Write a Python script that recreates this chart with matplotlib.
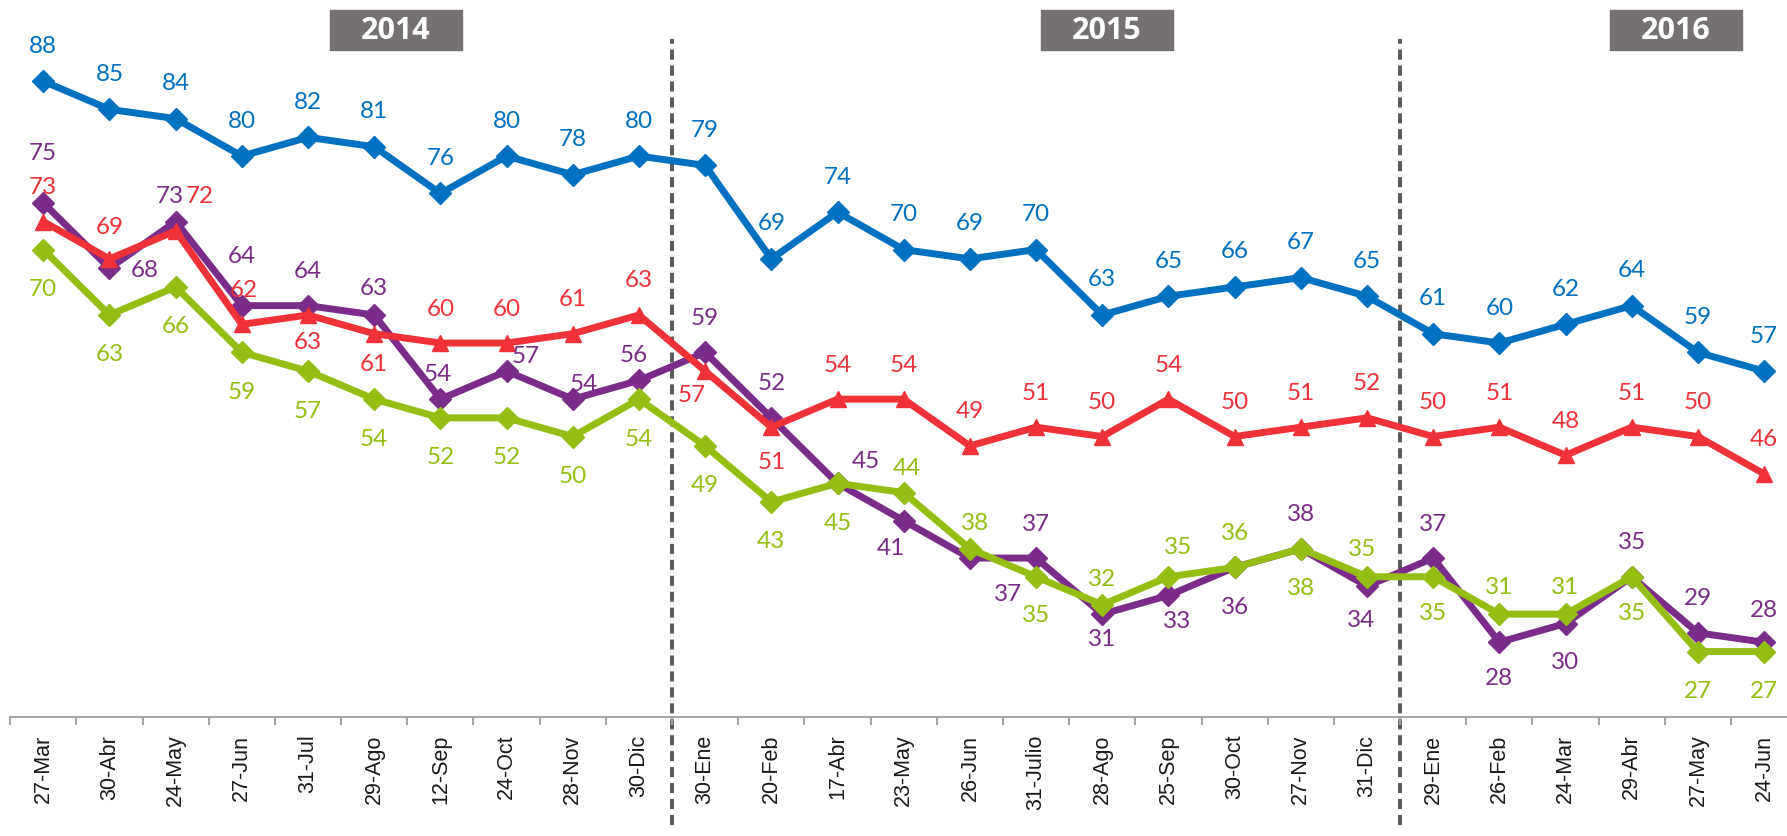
import matplotlib
matplotlib.use("Agg")
import matplotlib.pyplot as plt
from matplotlib.patches import Rectangle

# categories (survey dates)
fechas = ["27-Mar", "30-Abr", "24-May", "27-Jun", "31-Jul", "29-Ago", "12-Sep",
          "24-Oct", "28-Nov", "30-Dic", "30-Ene", "20-Feb", "17-Abr", "23-May",
          "26-Jun", "31-Julio", "28-Ago", "25-Sep", "30-Oct", "27-Nov", "31-Dic",
          "29-Ene", "26-Feb", "24-Mar", "29-Abr", "27-May", "24-Jun"]

azul = [88, 85, 84, 80, 82, 81, 76, 80, 78, 80, 79, 69, 74, 70, 69, 70, 63, 65,
        66, 67, 65, 61, 60, 62, 64, 59, 57]
rojo = [73, 69, 72, 62, 63, 61, 60, 60, 61, 63, 57, 51, 54, 54, 49, 51, 50, 54,
        50, 51, 52, 50, 51, 48, 51, 50, 46]
morado = [75, 68, 73, 64, 64, 63, 54, 57, 54, 56, 59, 52, 45, 41, 37, 37, 31, 33,
          36, 38, 34, 37, 28, 30, 35, 29, 28]
verde = [70, 63, 66, 59, 57, 54, 52, 52, 50, 54, 49, 43, 45, 44, 38, 35, 32, 35,
         36, 38, 35, 35, 31, 31, 35, 27, 27]

years = ["2014", "2015", "2016"]
year_pos = [5.33, 16.07, 24.67]   # box centres, in category units
separators = [9.5, 20.5]

# label offsets in pixels (dx, dy)
A = (0, 35)
B = (0, -39)
off_azul = [(0, 36)] * 27
off_rojo = [A, (0, 32), (24, 35), (2, 35), (0, -27), (0, -30), A, A, A, A,
            (-13, -23), (0, -34)] + [A] * 15
off_morado = [(0, 50), (35, -1), (-6, 26), (0, 50), A, (0, 27), (-3, 26), (19, 16),
              (11, 16), (-5, 26), A, A, (28, 23), (-13, -27), (38, -35), A,
              (0, -24), (9, -25), B, A, (-6, -33), A, (0, -35), (0, -38), A, A, (0, 33)]
off_verde = [B] * 13 + [(3, 25), (5, 26), (0, -38), (0, 26), (10, 30), A, B,
                        (-5, 28), (0, -36), (0, 28), (0, 28), (0, -36), B, B]

c_azul = "#0070C0"
c_rojo = "#EE3238"
c_morado = "#7B2C8A"
c_verde = "#95BE14"

fig = plt.figure(figsize=(17.87, 8.37), dpi=100)
ax = fig.add_axes([10.2 / 1787, 119 / 837, 1787 / 1787, 718 / 837])

x = list(range(len(fechas)))
series = [
    (morado, c_morado, "D", 11, off_morado, 2),
    (verde, c_verde, "D", 11, off_verde, 3),
    (rojo, c_rojo, "^", 12, off_rojo, 4),
    (azul, c_azul, "D", 11, off_azul, 5),
]
for vals, col, mk, ms, offs, z in series:
    ax.plot(x, vals, color=col, lw=5, marker=mk, ms=ms, zorder=z,
            solid_joinstyle="miter", clip_on=False)
    for xi, v, o in zip(x, vals, offs):
        ax.annotate(str(v), (xi, v), xytext=o, textcoords="offset pixels",
                    ha="center", va="center", color=col, fontsize=17.5,
                    family="Lato", zorder=6, annotation_clip=False)

for s in separators:
    ax.axvline(s, ymin=-0.15, ymax=0.944, color="#595959", lw=2.8,
               linestyle=(0, (2.6, 1.5)), clip_on=False, zorder=1)

ax.set_xlim(-0.5, len(fechas) - 0.5)
ax.set_ylim(20, 96.8)
ax.set_yticks([])
for sp in ["left", "right", "top"]:
    ax.spines[sp].set_visible(False)
ax.spines["bottom"].set_color("#A6A6A6")
ax.spines["bottom"].set_linewidth(1.5)

ax.set_xticks(x)
ax.set_xticklabels(fechas, rotation=90, fontsize=15.5, family="Liberation Sans",
                   color="#1a1a1a")
ax.tick_params(axis="x", which="major", length=0, pad=12)
ax.set_xticks([i - 0.5 for i in range(len(fechas) + 1)], minor=True)
ax.tick_params(axis="x", which="minor", length=6, width=1.5, color="#A6A6A6")

# year boxes on top
for yr, xp in zip(years, year_pos):
    xd = ax.transData.transform((xp, 20))[0] / 1787
    w = 132 / 1787
    h = 40 / 837
    fig.patches.append(Rectangle((xd - w / 2, 1 - 51 / 837), w, h,
                                 transform=fig.transFigure, color="#767171",
                                 zorder=0))
    fig.text(xd, 1 - 31 / 837, yr, ha="center", va="center", color="white",
             fontsize=22, fontweight="bold", family="Open Sans")

fig.savefig("out.png", dpi=100)
